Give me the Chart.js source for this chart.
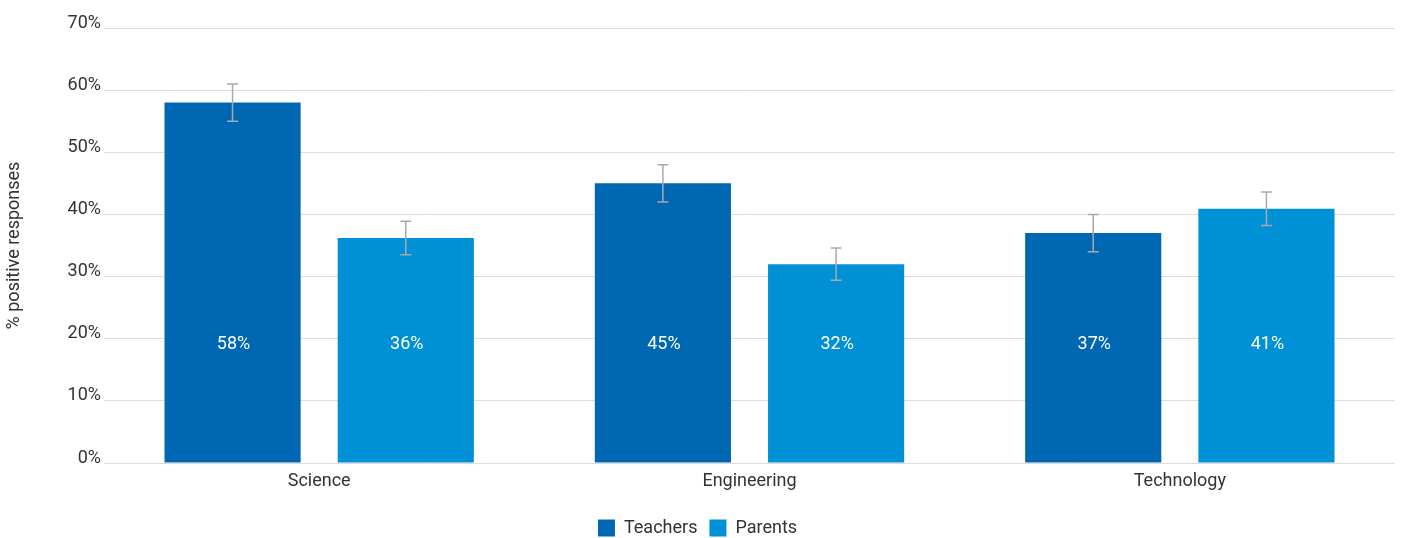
<!DOCTYPE html>
<html>
<head>
<meta charset="utf-8">
<script src="https://cdn.jsdelivr.net/npm/chart.js@4/dist/chart.umd.min.js"></script>
<style>
  html, body { margin: 0; padding: 0; background: #fff; }
  #wrap { width: 1402px; height: 538px; position: relative; }
</style>
</head>
<body>
<div id="wrap"><canvas id="chart"></canvas></div>
<script>
const categories = ['Science', 'Engineering', 'Technology'];
const teachers = [58, 45, 37];
const parents = [36.2, 32, 40.9];
const teachersErr = [3, 3, 3];
const parentsErr = [2.7, 2.6, 2.7];
const yTicks = [0, 10, 20, 30, 40, 50, 60, 70];
const labelLevel = 19;

const errorBars = {
  id: 'errorBars',
  afterDatasetsDraw(chart) {
    const ctx = chart.ctx;
    const y = chart.scales.y;
    ctx.save();
    ctx.strokeStyle = '#a9a9a9';
    ctx.lineWidth = 1.5;
    chart.data.datasets.forEach((ds, di) => {
      const meta = chart.getDatasetMeta(di);
      meta.data.forEach((bar, i) => {
        const v = ds.data[i], e = ds.errors[i];
        const top = y.getPixelForValue(v + e);
        const bot = y.getPixelForValue(v - e);
        ctx.beginPath();
        ctx.moveTo(bar.x, top); ctx.lineTo(bar.x, bot);
        ctx.moveTo(bar.x - 5.5, top); ctx.lineTo(bar.x + 5.5, top);
        ctx.moveTo(bar.x - 5.5, bot); ctx.lineTo(bar.x + 5.5, bot);
        ctx.stroke();
      });
    });
    ctx.restore();
  }
};

const barLabels = {
  id: 'barLabels',
  afterDatasetsDraw(chart) {
    const ctx = chart.ctx;
    const ly = chart.scales.y.getPixelForValue(labelLevel);
    ctx.save();
    ctx.fillStyle = '#ffffff';
    ctx.font = '18px Roboto';
    ctx.textAlign = 'center';
    ctx.textBaseline = 'middle';
    chart.data.datasets.forEach((ds, di) => {
      chart.getDatasetMeta(di).data.forEach((bar, i) => {
        ctx.fillText(Math.round(ds.data[i]) + '%', bar.x + 1, ly);
      });
    });
    ctx.restore();
  }
};

Chart.defaults.font.family = 'Roboto';
Chart.defaults.color = '#333333';

new Chart(document.getElementById('chart'), {
  type: 'bar',
  data: {
    labels: categories,
    datasets: [
      { label: 'Teachers', data: teachers, errors: teachersErr, backgroundColor: '#0068b3' },
      { label: 'Parents', data: parents, errors: parentsErr, backgroundColor: '#0090d5' }
    ]
  },
  options: {
    responsive: true,
    maintainAspectRatio: false,
    animation: false,
    categoryPercentage: 0.805,
    barPercentage: 0.786,
    layout: { padding: { top: 28, right: 7, bottom: -9, left: 0 } },
    plugins: {
      legend: {
        position: 'bottom',
        labels: { boxWidth: 17, boxHeight: 17, padding: 12, font: { size: 18 }, color: '#333333' }
      },
      tooltip: { enabled: false }
    },
    scales: {
      x: {
        grid: { display: false },
        border: { display: false },
        ticks: { font: { size: 18 }, padding: 0, color: '#333333' },
        afterFit(scale) { scale.height = 44; }
      },
      y: {
        min: 0,
        max: 70,
        afterBuildTicks(scale) { scale.ticks = yTicks.map(v => ({ value: v })); },
        grid: { color: '#dddddd', drawTicks: false },
        border: { display: false },
        ticks: { font: { size: 18 }, padding: 3, labelOffset: -5, color: '#333333', callback: v => v + '%' },
        title: { display: true, text: '% positive responses', font: { size: 18 }, color: '#333333' },
        afterFit(scale) { scale.width = 104; }
      }
    }
  },
  plugins: [errorBars, barLabels]
});
</script>
</body>
</html>
